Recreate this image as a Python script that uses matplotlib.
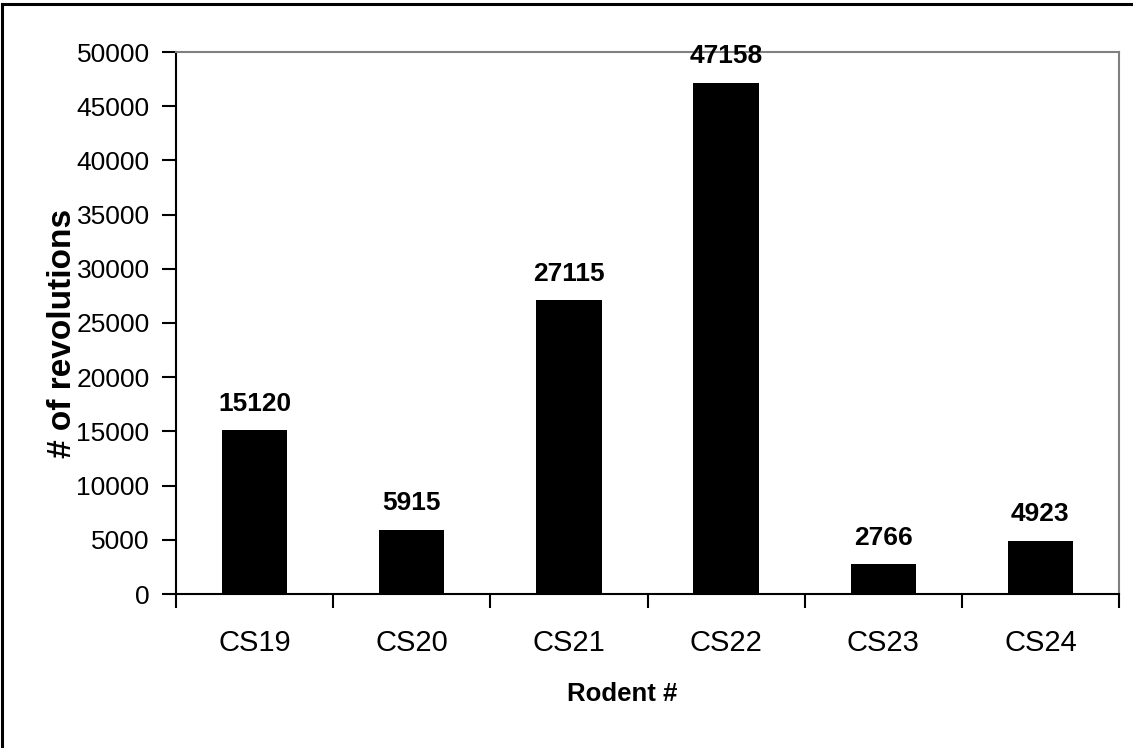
import numpy as np
import matplotlib
matplotlib.use('Agg')
import matplotlib.pyplot as plt
from matplotlib.lines import Line2D

# --- data ---
rodents = ['CS19', 'CS20', 'CS21', 'CS22', 'CS23', 'CS24']
revolutions = [15120, 5915, 27115, 47158, 2766, 4923]
y_ticks = np.arange(0, 50001, 5000)

plt.rcParams['font.family'] = ['Liberation Sans', 'DejaVu Sans']

W, H = 1133, 748
fig = plt.figure(figsize=(W / 100, H / 100), dpi=100)
ax = fig.add_axes([176 / W, 1 - 594 / H, (1119 - 176) / W, (594 - 52) / H])

x = np.arange(len(rodents))
bars = ax.bar(x, revolutions, width=0.415, color='black', zorder=3)

# value labels above bars
for xi, v in zip(x, revolutions):
    ax.annotate(f'{v}', (xi, v), xytext=(0, 14), textcoords='offset points',
                ha='center', va='baseline', fontsize=19, fontweight='bold',
                zorder=4)

ax.set_xlim(-0.5, len(rodents) - 0.5)
ax.set_ylim(0, 50000)

# ticks: major at category boundaries (no labels), minor at centers (labels)
ax.set_xticks(np.arange(-0.5, len(rodents), 1.0))
ax.set_xticklabels([])
ax.set_xticks(x, minor=True)
ax.set_xticklabels(rodents, minor=True, fontsize=21)
ax.tick_params(axis='x', which='major', direction='out', length=10, width=1.5,
               color='black')
ax.tick_params(axis='x', which='minor', length=0, pad=25)

ax.set_yticks(y_ticks)
ax.set_yticklabels([str(t) for t in y_ticks], fontsize=19)
ax.tick_params(axis='y', direction='out', length=10, width=1.5, pad=9,
               color='black')

# plot area frame
ax.spines['left'].set_color('black')
ax.spines['bottom'].set_color('black')
ax.spines['left'].set_linewidth(1.5)
ax.spines['bottom'].set_linewidth(1.5)
ax.spines['top'].set_color('#808080')
ax.spines['right'].set_color('#808080')
ax.spines['top'].set_linewidth(1.5)
ax.spines['right'].set_linewidth(1.5)

ax.set_xlabel('Rodent #', fontsize=18.5, fontweight='bold')
ax.xaxis.set_label_coords(0.473, -0.162)
ax.set_ylabel('# of revolutions', fontsize=24, fontweight='bold')
ax.yaxis.set_label_coords(-0.104, 0.48)

# outer chart border (left and top edges visible)
fig.add_artist(Line2D([2 / W, 2 / W], [0, 1 - 4 / H], transform=fig.transFigure,
                      color='black', linewidth=2.2))
fig.add_artist(Line2D([2 / W, 1], [1 - 4 / H, 1 - 4 / H], transform=fig.transFigure,
                      color='black', linewidth=2.2))

fig.savefig('out.png', dpi=100)
